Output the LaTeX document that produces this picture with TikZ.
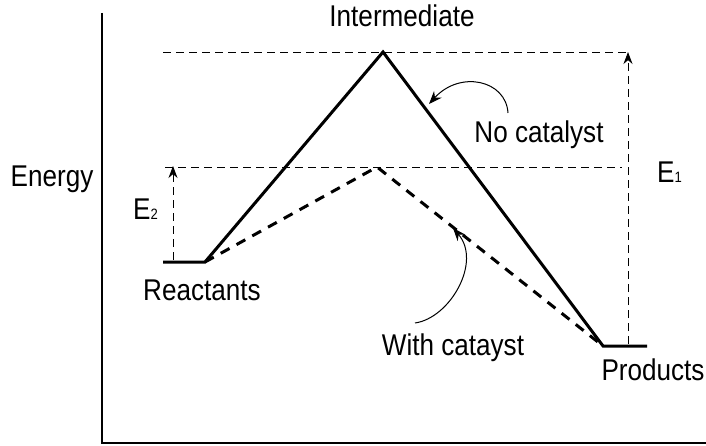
\documentclass[tikz,border=0pt]{standalone}
\usepackage{fontspec}
\setmainfont[FakeStretch=0.87]{Liberation Sans}
\usetikzlibrary{arrows.meta}
\newcommand\subsz{\fontsize{15}{15}\selectfont}
\begin{document}
\begin{tikzpicture}[x=1pt,y=-1pt,
  lbl/.style={inner sep=0pt,anchor=base,font=\fontsize{30}{30}\selectfont},
  axisline/.style={line width=2.6pt},
  pathline/.style={line width=3pt,line join=miter},
  catline/.style={line width=3pt,dash pattern=on 10pt off 8pt},
  guide/.style={line width=0.9pt,dash pattern=on 8pt off 5pt},
  tip/.style={-{Stealth[length=12pt,width=9pt]}},
  curv/.style={line width=1pt,-{Stealth[length=13pt,width=10pt]}}]
\useasboundingbox (0,0) rectangle (706,446);
% axes
\coordinate (ax0) at (102,443);
\coordinate (axT) at (102,13);
\coordinate (axR) at (706,443);
\draw[axisline] (axT) -- (ax0) -- (axR);
% key points
\coordinate (R1) at (163,262);
\coordinate (R2) at (205,262);
\coordinate (I) at (383,52);
\coordinate (T) at (377,167);
\coordinate (P1) at (603,346);
\coordinate (P2) at (647,346);
% guides
\coordinate (gIl) at (163,52);
\coordinate (gIr) at (628,52);
\coordinate (gTl) at (165,167);
\coordinate (gTr) at (622,167);
\draw[guide] (gIl) -- (gIr);
\draw[guide] (gTl) -- (gTr);
% E1 / E2 arrows
\coordinate (e1b) at (628,344);
\coordinate (e2b) at (173,260);
\coordinate (e2t) at (173,166);
\draw[guide,tip] (e1b) -- (gIr);
\draw[guide,tip] (e2b) -- (e2t);
% paths
\draw[pathline] (R1) -- (R2) -- (I) -- (P1) -- (P2);
\draw[catline] (R2) -- (T) -- (P1);
% labels
\node[lbl] (lint) at (402,27) {Intermediate};
\node[lbl] (lene) at (52,187) {Energy};
\node[lbl] (lrea) at (202,300) {Reactants};
\node[lbl] (lnoc) at (539,143) {No catalyst};
\node[lbl] (lwit) at (453,355) {With catayst};
\node[lbl] (lpro) at (653,380) {Products};
\node[lbl,anchor=base west] (le1) at (657,183) {E{\subsz 1}};
\node[lbl,anchor=base west] (le2) at (133,220) {E{\subsz 2}};
% curved arrows
\coordinate (c1s) at (508,113);
\coordinate (c1e) at (429,104);
\draw[curv] (c1s) .. controls (506,80) and (460,70) .. (c1e);
\coordinate (c2s) at (415,323);
\coordinate (c2e) at (453,228);
\draw[curv] (c2s) .. controls (450,318) and (482,262) .. (c2e);
\end{tikzpicture}
\end{document}
